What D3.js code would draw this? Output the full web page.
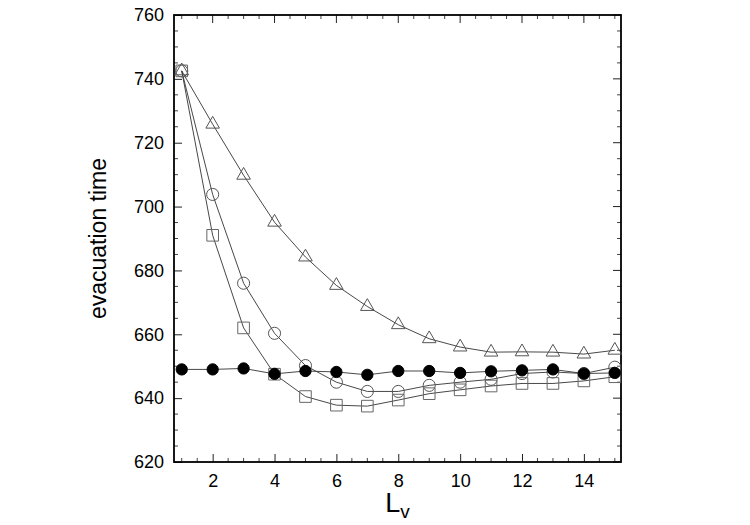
<!DOCTYPE html>
<html>
<head>
<meta charset="utf-8">
<script src="https://cdn.jsdelivr.net/npm/d3@7"></script>
<style>
  body { margin: 0; background: #fff; }
  text { font-family: "Liberation Sans", Arial, sans-serif; }
</style>
</head>
<body>
<div id="chart"></div>
<script>
// L_v values
const lv = [1, 2, 3, 4, 5, 6, 7, 8, 9, 10, 11, 12, 13, 14, 15];

// evacuation time series
const squares = [742.5, 691, 662, 647.5, 640.5, 637.8, 637.5, 639.4, 641.4, 642.6, 643.8, 644.6, 644.6, 645.4, 646.7];
const circles = [742.5, 703.8, 676, 660.3, 650.2, 645, 642.1, 642.1, 644, 645, 645.9, 647.7, 648.2, 647.7, 649.7];
const triangles = [742.5, 725.8, 709.8, 695.1, 684.2, 675.3, 668.7, 663, 658.6, 656, 654.4, 654.5, 654.4, 653.8, 655];
const filled = [649, 649, 649.3, 647.6, 648.5, 648.2, 647.3, 648.5, 648.5, 647.9, 648.4, 648.7, 649, 647.7, 647.9];

const xTicks = [2, 4, 6, 8, 10, 12, 14];
const yTicks = [620, 640, 660, 680, 700, 720, 740, 760];

const width = 750, height = 525;
const margin = { top: 15, right: 129, bottom: 63, left: 174 };
const w = width - margin.left - margin.right;
const h = height - margin.top - margin.bottom;

const svg = d3.select("#chart")
    .append("svg")
    .attr("width", width)
    .attr("height", height);

const g = svg.append("g")
    .attr("transform", `translate(${margin.left},${margin.top})`);

const x = d3.scaleLinear().domain([0.75, 15.2]).range([0, w]);
const y = d3.scaleLinear().domain([620, 760]).range([h, 0]);

// ticks (inward, all four sides)
const xMinor = d3.range(1, 15.01, 0.5).filter(v => v % 2 !== 0);
const yMinor = d3.range(620, 760.1, 5).filter(v => v % 20 !== 0);
const majorLen = 8, minorLen = 4;

const bottomAxis = d3.axisBottom(x).tickValues(xTicks).tickSize(-majorLen).tickPadding(12).tickFormat(d3.format("d"));
const leftAxis = d3.axisLeft(y).tickValues(yTicks).tickSize(-majorLen).tickPadding(10).tickFormat(d3.format("d"));

const gx = g.append("g").attr("transform", `translate(0,${h})`).call(bottomAxis);
const gy = g.append("g").call(leftAxis);
[gx, gy].forEach(a => {
    a.select(".domain").remove();
    a.selectAll("text").style("font-size", "18px").attr("fill", "#000");
    a.selectAll("line").attr("stroke", "#222");
});

// top/right major ticks
g.append("g").selectAll("line").data(xTicks).join("line")
    .attr("x1", d => x(d)).attr("x2", d => x(d))
    .attr("y1", 0).attr("y2", majorLen).attr("stroke", "#222");
g.append("g").selectAll("line").data(yTicks).join("line")
    .attr("x1", w).attr("x2", w - majorLen)
    .attr("y1", d => y(d)).attr("y2", d => y(d)).attr("stroke", "#222");

// minor ticks
const minor = g.append("g").attr("stroke", "#444");
xMinor.forEach(v => {
    minor.append("line").attr("x1", x(v)).attr("x2", x(v)).attr("y1", h).attr("y2", h - minorLen);
    minor.append("line").attr("x1", x(v)).attr("x2", x(v)).attr("y1", 0).attr("y2", minorLen);
});
yMinor.forEach(v => {
    minor.append("line").attr("x1", 0).attr("x2", minorLen).attr("y1", y(v)).attr("y2", y(v));
    minor.append("line").attr("x1", w).attr("x2", w - minorLen).attr("y1", y(v)).attr("y2", y(v));
});

// frame
g.append("rect")
    .attr("width", w).attr("height", h)
    .attr("fill", "none").attr("stroke", "#000").attr("stroke-width", 1.8);

const line = d3.line().x((d, i) => x(lv[i])).y(d => y(d));

const series = [
    { name: "triangles", values: triangles, shape: d3.symbolTriangle, size: 80, fill: "none", stroke: "#555" },
    { name: "circles", values: circles, shape: d3.symbolCircle, size: 115, fill: "none", stroke: "#555" },
    { name: "squares", values: squares, shape: d3.symbolSquare, size: 135, fill: "none", stroke: "#666" },
    { name: "filled", values: filled, shape: d3.symbolCircle, size: 100, fill: "#000", stroke: "#000" }
];

series.forEach(s => {
    g.append("path")
        .datum(s.values)
        .attr("d", line)
        .attr("fill", "none")
        .attr("stroke", "#333")
        .attr("stroke-width", 0.9);
});

series.forEach(s => {
    g.append("g").selectAll("path")
        .data(s.values)
        .join("path")
        .attr("transform", (d, i) => `translate(${x(lv[i])},${y(d)})`)
        .attr("d", d3.symbol().type(s.shape).size(s.size))
        .attr("fill", s.fill)
        .attr("stroke", s.stroke)
        .attr("stroke-width", 1);
});

// axis titles
svg.append("text")
    .attr("transform", `translate(106,${margin.top + h / 2}) rotate(-90)`)
    .attr("text-anchor", "middle")
    .style("font-size", "23px")
    .text("evacuation time");

const xl = svg.append("text")
    .attr("x", margin.left + w / 2)
    .attr("y", 512)
    .attr("text-anchor", "middle")
    .style("font-size", "27px")
    .text("L");
xl.append("tspan").attr("dy", 6).style("font-size", "19px").text("v");
</script>
</body>
</html>
